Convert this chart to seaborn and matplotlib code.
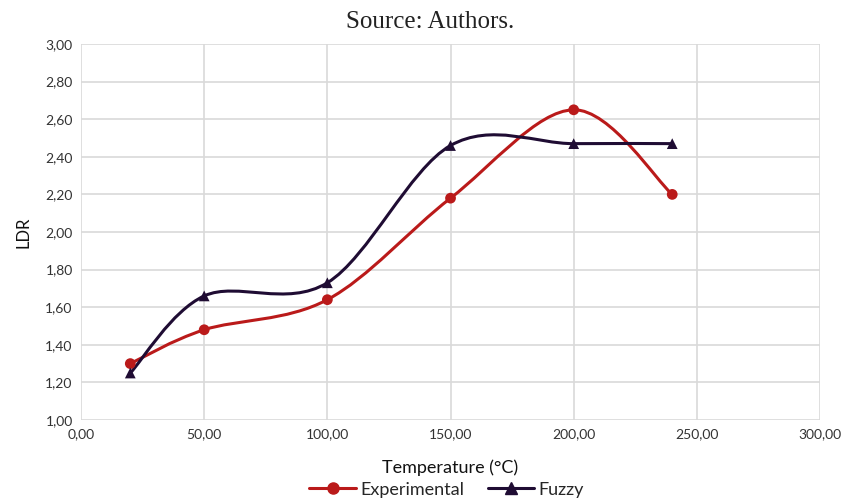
import numpy as np
import matplotlib
matplotlib.use("Agg")
import matplotlib.pyplot as plt
from matplotlib.path import Path
from matplotlib.patches import PathPatch
from matplotlib.lines import Line2D
import seaborn as sns
import pandas as pd

temperature = [20, 50, 100, 150, 200, 240]
experimental = [1.30, 1.48, 1.64, 2.18, 2.65, 2.20]
fuzzy = [1.25, 1.66, 1.73, 2.46, 2.47, 2.47]
x_ticks = [0, 50, 100, 150, 200, 250, 300]
y_ticks = [1.0, 1.2, 1.4, 1.6, 1.8, 2.0, 2.2, 2.4, 2.6, 2.8, 3.0]
title_text = "Source: Authors."
x_label = "Temperature (°C)"
y_label = "LDR"
series_names = ["Experimental", "Fuzzy"]

red = "#BA1A1A"
dark = "#1F0C33"

sns.set_style("white")
plt.rcParams["font.family"] = ["Lato", "DejaVu Sans"]

fig = plt.figure(figsize=(8.44, 5.0), dpi=100)
ax = fig.add_axes([0.096, 0.16, 0.8756, 0.752])


def smooth_path(xs, ys):
    pts = np.column_stack([xs, ys]).astype(float)
    n = len(pts)
    verts = [pts[0]]
    codes = [Path.MOVETO]
    for i in range(n - 1):
        p0 = pts[max(i - 1, 0)]
        p1 = pts[i]
        p2 = pts[i + 1]
        p3 = pts[min(i + 2, n - 1)]
        c1 = p1 + (p2 - p0) / 6.0
        c2 = p2 - (p3 - p1) / 6.0
        verts += [c1, c2, p2]
        codes += [Path.CURVE4] * 3
    return Path(verts, codes)


df = pd.DataFrame({
    "T": temperature * 2,
    "LDR": experimental + fuzzy,
    "series": [series_names[0]] * len(temperature) + [series_names[1]] * len(temperature),
})

for name, color in zip(series_names, [red, dark]):
    sub = df[df["series"] == name]
    ax.add_patch(PathPatch(smooth_path(sub["T"].values, sub["LDR"].values),
                           facecolor="none", edgecolor=color, lw=2.2, zorder=3))

sns.scatterplot(data=df, x="T", y="LDR", hue="series", style="series",
                markers={series_names[0]: "o", series_names[1]: "^"},
                palette={series_names[0]: red, series_names[1]: dark},
                s=60, edgecolor="none", legend=False, ax=ax, zorder=4)

ax.set_xlim(0, 300)
ax.set_ylim(1.0, 3.0)
ax.set_xticks(x_ticks)
ax.set_yticks(y_ticks)
ax.set_xticklabels([f"{v:.2f}".replace(".", ",") for v in x_ticks])
ax.set_yticklabels([f"{v:.2f}".replace(".", ",") for v in y_ticks])
ax.tick_params(axis="both", length=0, labelsize=10, colors="#333333", pad=6)
ax.grid(True, color="#D9D9D9", lw=1.2)
for s in ax.spines.values():
    s.set_visible(False)

ax.set_xlabel(x_label, fontsize=13, color="#111111", labelpad=14)
ax.set_ylabel(y_label, fontsize=12, color="#111111", labelpad=10)

fig.text(0.51, 0.955, title_text, ha="center", va="center",
         fontsize=18, family=["Liberation Serif", "DejaVu Serif"], color="#222222")

handles = [
    Line2D([], [], color=red, lw=2.2, marker="o", markersize=8, label=series_names[0]),
    Line2D([], [], color=dark, lw=2.2, marker="^", markersize=8, label=series_names[1]),
]
fig.legend(handles=handles, loc="center", bbox_to_anchor=(0.529, 0.021), ncol=2,
           frameon=False, fontsize=13, handlelength=2.6, columnspacing=1.3,
           handletextpad=0.2, borderpad=0.0)

fig.savefig("out.png", dpi=100)
